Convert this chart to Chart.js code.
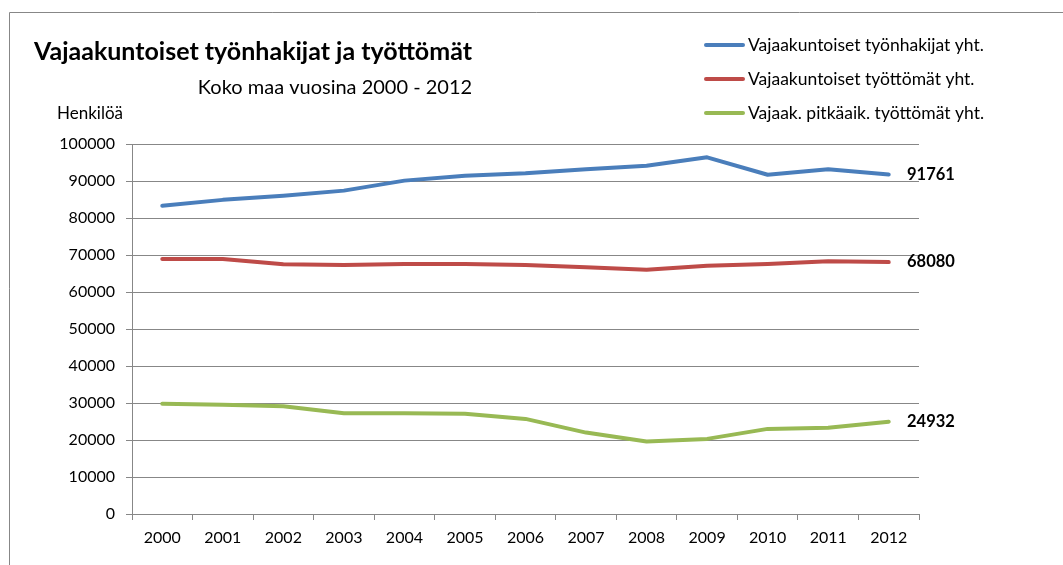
<!DOCTYPE html>
<html>
<head>
<meta charset="utf-8">
<title>Vajaakuntoiset työnhakijat ja työttömät</title>
<script src="https://cdn.jsdelivr.net/npm/chart.js@4"></script>
<style>
  html, body { margin: 0; padding: 0; background: #fff; }
  canvas { display: block; }
</style>
</head>
<body>
<canvas id="chart" width="1063" height="565"></canvas>
<script>
const years = ['2000', '2001', '2002', '2003', '2004', '2005', '2006', '2007', '2008', '2009', '2010', '2011', '2012'];
const hakijat = [83300, 84900, 86000, 87400, 90100, 91400, 92100, 93200, 94100, 96400, 91700, 93200, 91761];
const tyottomat = [68900, 68900, 67500, 67300, 67600, 67600, 67300, 66700, 66000, 67100, 67600, 68300, 68080];
const pitkaaik = [29800, 29500, 29100, 27200, 27200, 27100, 25700, 22000, 19600, 20300, 23000, 23300, 24932];
const seriesNames = ['Vajaakuntoiset työnhakijat yht.', 'Vajaakuntoiset työttömät yht.', 'Vajaak. pitkäaik. työttömät yht.'];

const FONT = 'Lato, "Open Sans", sans-serif';
const GRID = '#878787';

// otsikot, legenda, kehys ja viimeisen vuoden arvot piirretään itse
const decorations = {
  id: 'decorations',
  afterDraw(chart) {
    const ctx = chart.ctx;
    ctx.save();

    ctx.strokeStyle = GRID;
    ctx.lineWidth = 1;
    ctx.beginPath();
    ctx.moveTo(9.5, 565);
    ctx.lineTo(9.5, 12.5);
    ctx.lineTo(1063, 12.5);
    ctx.stroke();

    ctx.fillStyle = '#000';
    ctx.textBaseline = 'middle';
    ctx.textAlign = 'center';
    ctx.font = 'bold 25px ' + FONT;
    ctx.fillText('Vajaakuntoiset työnhakijat ja työttömät', 253, 52);
    ctx.font = '20px ' + FONT;
    ctx.fillText('Koko maa vuosina 2000 - 2012', 335, 88);

    ctx.textAlign = 'left';
    ctx.font = '17px ' + FONT;
    ctx.fillText('Henkilöä', 57, 114);

    const rows = [45, 79, 113];
    chart.data.datasets.forEach((ds, i) => {
      ctx.strokeStyle = ds.borderColor;
      ctx.lineWidth = 4;
      ctx.lineCap = 'round';
      ctx.beginPath();
      ctx.moveTo(706, rows[i]);
      ctx.lineTo(743, rows[i]);
      ctx.stroke();
      ctx.fillStyle = '#000';
      ctx.font = '17.5px ' + FONT;
      ctx.fillText(ds.label, 748, rows[i]);
    });

    ctx.font = 'bold 16.5px ' + FONT;
    chart.data.datasets.forEach((ds, i) => {
      const pts = chart.getDatasetMeta(i).data;
      const last = pts[pts.length - 1];
      ctx.fillText(String(ds.data[ds.data.length - 1]), 907, last.y);
    });

    ctx.restore();
  }
};

const ctx = document.getElementById('chart').getContext('2d');
new Chart(ctx, {
  type: 'line',
  data: {
    labels: years,
    datasets: [
      { label: seriesNames[0], data: hakijat, borderColor: '#4a7ebb' },
      { label: seriesNames[1], data: tyottomat, borderColor: '#be4b48' },
      { label: seriesNames[2], data: pitkaaik, borderColor: '#98b954' }
    ]
  },
  options: {
    responsive: false,
    animation: false,
    layout: { padding: { left: 0, top: 144, right: 144, bottom: 0 } },
    elements: {
      point: { radius: 0 },
      line: { borderWidth: 4, tension: 0, borderJoinStyle: 'round', borderCapStyle: 'round' }
    },
    plugins: {
      legend: { display: false },
      tooltip: { enabled: false }
    },
    scales: {
      x: {
        offset: true,
        grid: { offset: true, drawOnChartArea: false, color: GRID, tickLength: 6 },
        border: { color: GRID },
        ticks: { color: '#000', font: { family: FONT, size: 16 }, padding: 8, maxRotation: 0 },
        afterFit(scale) { scale.height = 51; }
      },
      y: {
        min: 0,
        max: 100000,
        grid: { color: GRID, tickLength: 6 },
        border: { color: GRID },
        ticks: {
          stepSize: 10000,
          color: '#000',
          font: { family: FONT, size: 16 },
          padding: 11,
          callback: (value) => String(value)
        },
        afterFit(scale) { scale.width = 132; }
      }
    }
  },
  plugins: [decorations]
});
</script>
</body>
</html>
